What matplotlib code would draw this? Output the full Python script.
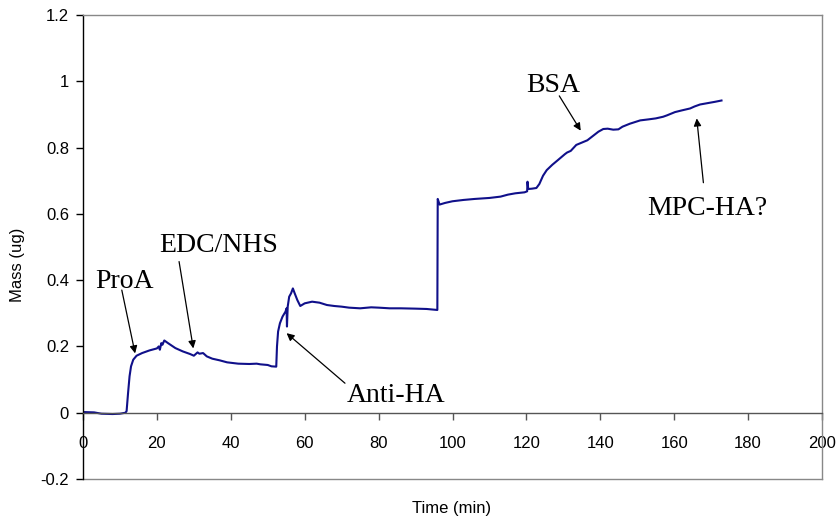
import matplotlib
matplotlib.use("Agg")
import matplotlib.pyplot as plt

# ---- data ----
time_min = [0, 3, 5, 8, 10, 11.5, 11.8, 12.2, 12.6, 13.0, 13.6, 14.5, 16, 18, 20, 20.5, 20.8, 21.2, 21.5, 22,
            23, 25, 27, 29, 30, 31, 31.5, 32.5, 33.5, 35, 37, 39, 42, 45, 47, 48, 50, 51, 52.3, 52.5,
            52.8, 53.3, 54, 54.8, 55.1, 55.2, 55.4, 55.8, 56.3, 56.8, 57.3, 58, 58.8, 60, 62, 64, 66, 68, 70, 72,
            75, 78, 80, 83, 86, 90, 93, 95.9, 96.0, 96.5, 98, 100, 103, 106, 110, 113, 115, 117, 119.5, 120.2,
            120.3, 120.5, 121.5, 122.7, 123.5, 124.5, 125.5, 127, 128.5, 130.4, 131, 132, 133.5, 135, 136.5, 138,
            139.5, 140.8, 142, 143.5, 144.9, 146, 148, 150.8, 153, 155, 157, 158, 160.2, 162, 164.3, 165.5, 167,
            169, 171, 172.8]
mass_ug = [0.002, 0.001, -0.003, -0.004, -0.003, 0.0, 0.005, 0.06, 0.11, 0.14, 0.16, 0.172, 0.18, 0.188, 0.194,
           0.2, 0.19, 0.21, 0.205, 0.218, 0.21, 0.195, 0.185, 0.177, 0.172, 0.182, 0.178, 0.18, 0.17, 0.163,
           0.158, 0.152, 0.148, 0.147, 0.148, 0.146, 0.144, 0.14, 0.139, 0.2, 0.245, 0.27, 0.29, 0.305, 0.315,
           0.26, 0.32, 0.35, 0.36, 0.375, 0.36, 0.34, 0.322, 0.33, 0.335, 0.332, 0.325, 0.322, 0.32, 0.317,
           0.315, 0.318, 0.317, 0.315, 0.315, 0.314, 0.313, 0.31, 0.645, 0.628, 0.633, 0.638, 0.642, 0.645,
           0.648, 0.652, 0.658, 0.662, 0.665, 0.668, 0.697, 0.675, 0.676, 0.678, 0.69, 0.715, 0.732, 0.748,
           0.762, 0.78, 0.785, 0.79, 0.808, 0.815, 0.822, 0.835, 0.848, 0.856, 0.857, 0.854, 0.855, 0.863,
           0.872, 0.882, 0.885, 0.888, 0.893, 0.897, 0.907, 0.912, 0.918, 0.924, 0.93, 0.934, 0.938, 0.942]

x_ticks = [0, 20, 40, 60, 80, 100, 120, 140, 160, 180, 200]
x_tick_labels = ["0", "20", "40", "60", "80", "100", "120", "140", "160", "180", "200"]
y_ticks = [-0.2, 0, 0.2, 0.4, 0.6, 0.8, 1.0, 1.2]
y_tick_labels = ["-0.2", "0", "0.2", "0.4", "0.6", "0.8", "1", "1.2"]

labels = ["ProA", "EDC/NHS", "Anti-HA", "BSA", "MPC-HA?"]
# layout of annotations (text anchor, arrow tail, arrow head) in data coords
label_pos = [(3.25, 0.376), (20.6, 0.486), (71.4, 0.031), (119.9, 0.967), (152.7, 0.597)]
arrow_tail = [(10.5, 0.370), (26.0, 0.456), (70.9, 0.089), (128.9, 0.956), (167.9, 0.694)]
arrow_head = [(14.1, 0.179), (29.85, 0.194), (55.1, 0.240), (134.7, 0.851), (166.1, 0.888)]

sans = ["Liberation Sans", "DejaVu Sans"]
serif = ["Liberation Serif", "DejaVu Serif"]

fig = plt.figure(figsize=(8.4, 5.21), dpi=100)
ax = fig.add_axes([83 / 840, 1 - 479 / 521, (822 - 83) / 840, (479 - 15) / 521])

ax.plot(time_min, mass_ug, color="#10108a", lw=1.5, solid_joinstyle="round")

ax.set_xlim(0, 200)
ax.set_ylim(-0.2, 1.2)

ax.spines["bottom"].set_position(("data", 0))
ax.spines["bottom"].set_color("#555555")
ax.spines["top"].set_color("#888888")
ax.spines["right"].set_color("#888888")
ax.spines["left"].set_color("black")
for s in ax.spines.values():
    s.set_linewidth(1.0)
ax.axhline(-0.2, color="#888888", lw=1.0, clip_on=False)

ax.set_xticks(x_ticks)
ax.set_xticklabels(x_tick_labels, family=sans, fontsize=12)
ax.set_yticks(y_ticks)
ax.set_yticklabels(y_tick_labels, family=sans, fontsize=12)
ax.tick_params(axis="x", direction="out", length=5, width=1, pad=12, colors="#555555", labelcolor="black")
ax.tick_params(axis="y", direction="out", length=5, width=1, pad=5, colors="black")

fig.text(452 / 840, 1 - 508 / 521, "Time (min)", family=sans, fontsize=12, ha="center", va="center")
fig.text(18 / 840, 1 - 265 / 521, "Mass (ug)", family=sans, fontsize=12, ha="center", va="center",
         rotation=90)

for lab, p, tail, head in zip(labels, label_pos, arrow_tail, arrow_head):
    ax.text(p[0], p[1], lab, family=serif, fontsize=20, ha="left", va="baseline")
    ax.annotate("", xy=head, xytext=tail,
                arrowprops=dict(arrowstyle="-|>", color="black", lw=0.9, mutation_scale=11,
                                shrinkA=0, shrinkB=0))

fig.savefig("out.png", dpi=100)
